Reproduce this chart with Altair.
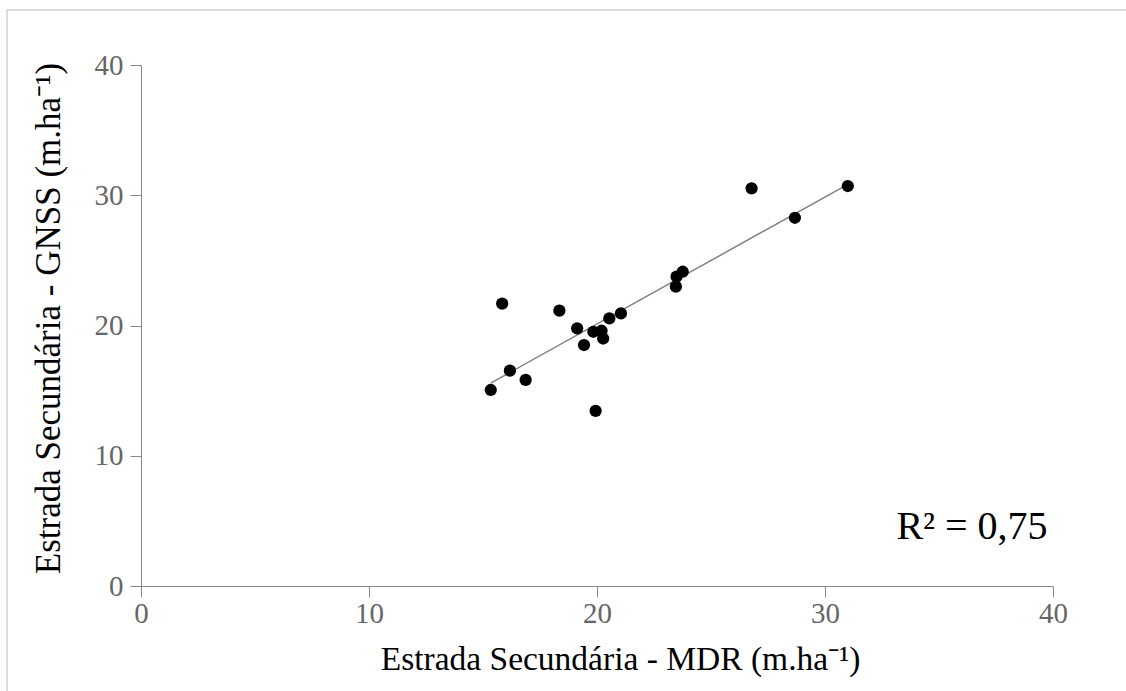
import altair as alt
import pandas as pd

mdr = [26.78, 31.0, 28.68, 23.76, 23.49, 23.46, 15.84, 18.35, 21.05, 20.54,
       19.13, 19.84, 20.2, 20.27, 19.43, 16.18, 16.87, 15.34, 19.94]
gnss = [30.53, 30.71, 28.27, 24.13, 23.75, 22.98, 21.68, 21.14, 20.93, 20.55,
        19.78, 19.52, 19.6, 19.0, 18.5, 16.53, 15.82, 15.05, 13.44]
ticks = [0, 10, 20, 30, 40]
x_title = "Estrada Secundária - MDR (m.ha⁻¹)"
y_title = "Estrada Secundária - GNSS  (m.ha⁻¹)"
r2_label = ["R² = 0,75"]

df = pd.DataFrame({"mdr": mdr, "gnss": gnss})

FONT = "Liberation Serif"
W, H = 912, 521

xscale = alt.Scale(domain=[0, 40], nice=False, zero=True)
yscale = alt.Scale(domain=[0, 40], nice=False, zero=True)

xaxis = alt.Axis(title=x_title, values=ticks, titlePadding=15, labelPadding=2,
                 labelFlush=False, titleX=479)
yaxis = alt.Axis(title=y_title, values=ticks, titlePadding=28, labelPadding=7,
                 labelFlush=False, titleY=253)

frame = alt.Chart(pd.DataFrame({"a": [0]})).mark_rect(
    fill=None, stroke="#dddddd", strokeWidth=2
).encode(x=alt.value(-134), x2=alt.value(1000), y=alt.value(-55), y2=alt.value(700))

line = alt.Chart(df).transform_regression("mdr", "gnss").mark_line(
    color="#808080", strokeWidth=1.5
).encode(x=alt.X("mdr:Q", scale=xscale, axis=xaxis),
         y=alt.Y("gnss:Q", scale=yscale, axis=yaxis))

points = alt.Chart(df).mark_circle(size=150, color="#000000", opacity=1).encode(
    x=alt.X("mdr:Q", scale=xscale, axis=xaxis),
    y=alt.Y("gnss:Q", scale=yscale, axis=yaxis),
)

r2 = alt.Chart(pd.DataFrame({"t": r2_label})).mark_text(
    font=FONT, fontSize=40, color="#000000", align="center", baseline="middle"
).encode(x=alt.value(831), y=alt.value(462), text="t:N")

chart = alt.layer(frame, line, points, r2).properties(
    width=W, height=H,
    background="#ffffff",
    autosize=alt.AutoSizeParams(type="none"),
    padding={"left": 141, "top": 65, "right": 73, "bottom": 105},
).configure_view(strokeWidth=0).configure_axis(
    grid=False, domainColor="#888888", tickColor="#888888", tickSize=11,
    labelColor="#666666", labelFont=FONT, labelFontSize=29,
    titleFont=FONT, titleFontWeight="normal", titleColor="#000000",
).configure_axisX(titleFontSize=33.5).configure_axisY(titleFontSize=35)

chart.save("out.html", embed_options={"renderer": "svg", "actions": False})
